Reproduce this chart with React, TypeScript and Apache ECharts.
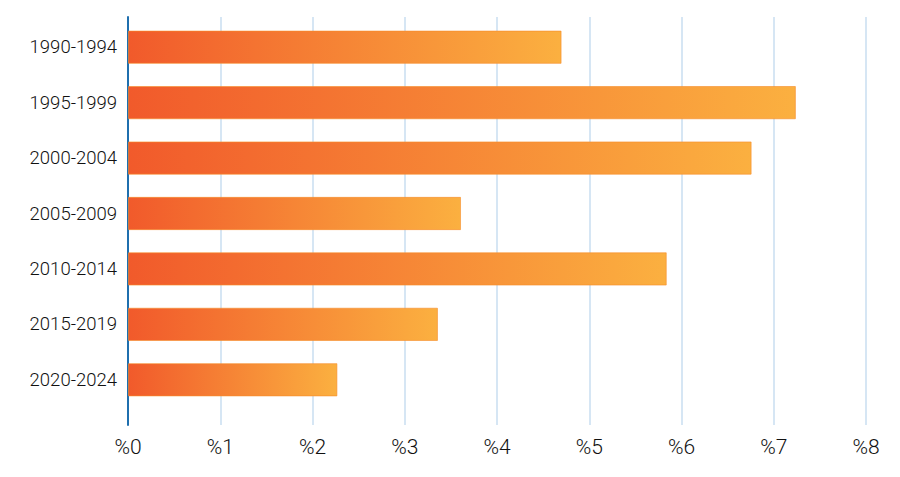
import React, { useEffect, useRef } from "react";
import * as echarts from "echarts";

const categories = ["1990-1994", "1995-1999", "2000-2004", "2005-2009", "2010-2014", "2015-2019", "2020-2024"];
const values = [4.7, 7.24, 6.76, 3.61, 5.84, 3.36, 2.27];
const xTicks = [0, 1, 2, 3, 4, 5, 6, 7, 8];

export default function App() {
  const ref = useRef<HTMLDivElement>(null);
  useEffect(() => {
    if (!ref.current) return;
    const chart = echarts.init(ref.current, undefined, { renderer: "svg" });
    const font = "Roboto, 'Liberation Sans', sans-serif";
    chart.setOption({
      animation: false,
      backgroundColor: "#ffffff",
      grid: [
        { left: 128, right: 34, top: 17, height: 408 },
        { left: 128, right: 34, top: 19.5, height: 388 },
      ],
      xAxis: [
        {
          gridIndex: 0,
          type: "value",
          min: xTicks[0],
          max: xTicks[xTicks.length - 1],
          interval: 1,
          axisLine: { show: false },
          axisTick: { show: false },
          splitLine: { show: true, lineStyle: { color: "#c8def0", width: 1.5 } },
          axisLabel: {
            formatter: (v: number) => "%" + v,
            fontFamily: font,
            fontWeight: 300,
            fontSize: 21,
            color: "#111111",
            margin: 11,
          },
        },
        { gridIndex: 1, type: "value", min: 0, max: 8, show: false },
      ],
      yAxis: [
        {
          gridIndex: 0,
          type: "value",
          min: 0,
          max: 1,
          axisLine: { show: true, onZero: false, lineStyle: { color: "#1f6fae", width: 2 } },
          axisTick: { show: false },
          axisLabel: { show: false },
          splitLine: { show: false },
        },
        {
          gridIndex: 1,
          type: "category",
          inverse: true,
          data: categories,
          axisLine: { show: false },
          axisTick: { show: false },
          axisLabel: {
            fontFamily: font,
            fontWeight: 300,
            fontSize: 18.5,
            color: "#111111",
            margin: 11,
          },
        },
      ],
      series: [
        {
          type: "bar",
          xAxisIndex: 1,
          yAxisIndex: 1,
          data: values,
          barCategoryGap: "40%",
          itemStyle: {
            color: new echarts.graphic.LinearGradient(0, 0, 1, 0, [
              { offset: 0, color: "#f15a2b" },
              { offset: 1, color: "#fbb040" },
            ]),
            borderColor: "rgba(247,140,40,0.6)",
            borderWidth: 1,
          },
        },
      ],
    });
    return () => chart.dispose();
  }, []);
  return <div ref={ref} style={{ width: 900, height: 477, position: "absolute", left: 0, top: 0 }} />;
}
